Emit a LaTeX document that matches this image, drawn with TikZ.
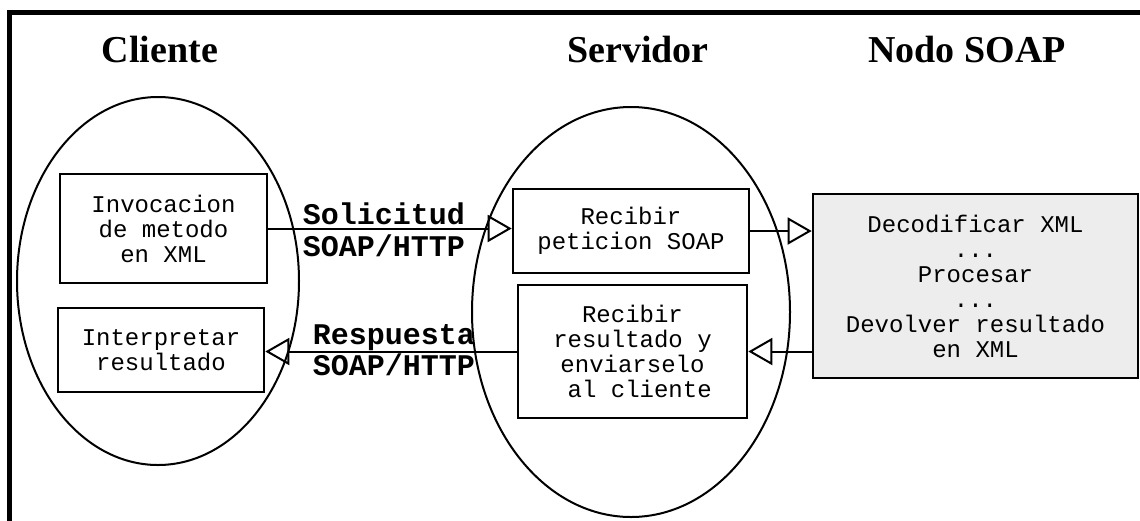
\documentclass[tikz,border=0pt]{standalone}
\usepackage{fontspec}
\usetikzlibrary{shapes.geometric,arrows.meta}
\newfontfamily\titlefont{Liberation Serif}
\newfontfamily\monofont{Liberation Mono}
\definecolor{nodefill}{HTML}{EDEDED}
\tikzset{
  frame/.style={line width=5pt},
  zone/.style={ellipse, draw, line width=2pt, inner sep=0pt},
  task/.style={rectangle, draw, line width=2.6pt, align=center, inner sep=0pt,
    font=\monofont\fontsize{24}{25}\selectfont},
  heading/.style={anchor=base, font=\titlefont\bfseries\fontsize{38}{40}\selectfont},
  msg/.style={anchor=base, inner sep=0pt, font=\monofont\bfseries\fontsize{30}{32}\selectfont},
  flow/.style={line width=2pt, -{Triangle[open, length=24pt, width=27pt, line width=2pt]}}
}
\begin{document}
\begin{tikzpicture}[x=1pt, y=-1pt]
  \useasboundingbox (0,0) rectangle (1140,520);
  \clip (0,0) rectangle (1140,520);
  % outer frame (only top and left edges fall inside the page)
  \draw[frame] (9.5,12.5) rectangle (1160,540);

  % column headings
  \node[heading] (hcli) at (160,62) {Cliente};
  \node[heading] (hsrv) at (638,62) {Servidor};
  \node[heading] (hsoap) at (967,62) {Nodo SOAP};

  % client and server zones
  \node[zone, minimum width=282pt, minimum height=368pt] (cli) at (158,281) {};
  \node[zone, minimum width=318pt, minimum height=410pt] (srv) at (631,312) {};

  % processing steps
  \node[task, minimum width=207pt, minimum height=109pt] (inv) at (163.5,228.5)
    {Invocacion\\de metodo\\en XML};
  \node[task, minimum width=206pt, minimum height=84pt] (interp) at (161,350)
    {Interpretar\\resultado};
  \node[task, minimum width=236pt, minimum height=84pt] (pet) at (631,231)
    {Recibir\\peticion SOAP};
  \node[task, minimum width=229pt, minimum height=133pt] (res) at (632.5,351.5)
    {Recibir\\resultado y\\enviarselo\\\ al cliente};
  \node[task, fill=nodefill, minimum width=325pt, minimum height=184pt] (soap) at (975.5,286)
    {Decodificar XML\\...\\Procesar\\...\\Devolver resultado\\en XML};

  % message flow
  \draw[flow] (inv.east) -- (inv.east -| pet.west);
  \draw[flow] (pet.east) -- (pet.east -| soap.west);
  \draw[flow] (soap.west |- res.east) -- (res.east);
  \draw[flow] (res.west) -- (res.west -| interp.east);

  % message labels
  \node[msg] (lsol) at (384,224) {Solicitud};
  \node[msg] (lsolp) at (384,256) {SOAP/HTTP};
  \node[msg] (lres) at (394,344) {Respuesta};
  \node[msg] (lresp) at (394,375) {SOAP/HTTP};
\end{tikzpicture}
\end{document}
